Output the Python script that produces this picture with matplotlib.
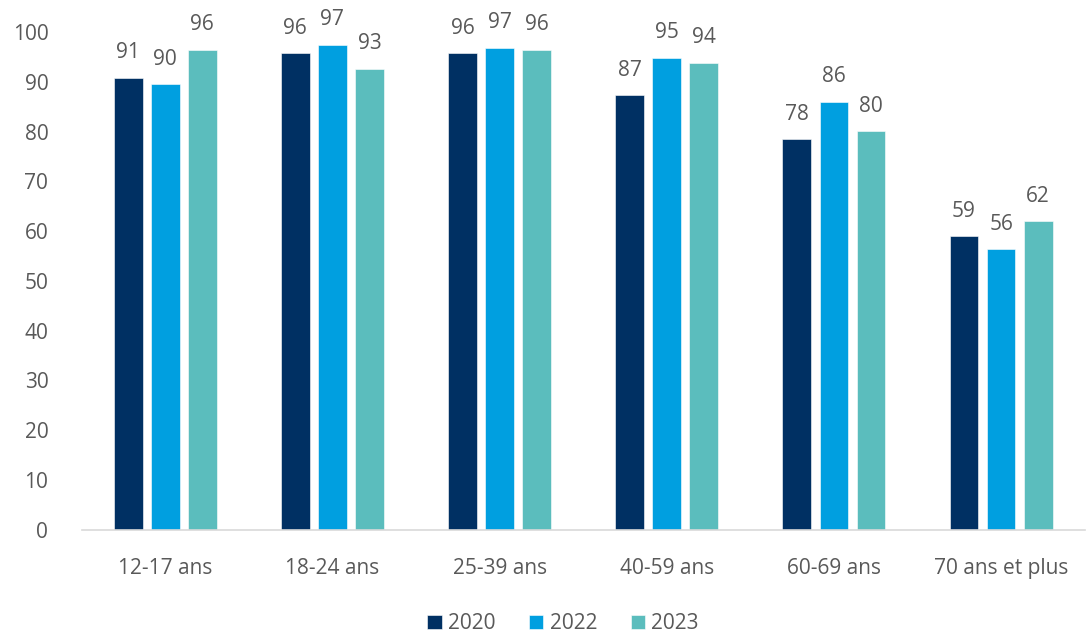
import numpy as np
import matplotlib.pyplot as plt

plt.rcParams['font.family'] = ['Open Sans', 'DejaVu Sans']
plt.rcParams['font.size'] = 15

categories = ['12-17 ans', '18-24 ans', '25-39 ans', '40-59 ans', '60-69 ans', '70 ans et plus']
years = ['2020', '2022', '2023']
v2020 = [90.8, 95.7, 95.7, 87.3, 78.4, 59.0]
v2022 = [89.5, 97.4, 96.8, 94.8, 86.0, 56.4]
v2023 = [96.4, 92.6, 96.4, 93.8, 80.1, 62.0]
colors = ['#003063', '#009fe0', '#5bbdbd']

grey = '#595959'

fig = plt.figure(figsize=(10.89, 6.39), dpi=100)
ax = fig.add_axes([0.075, 0.171, 0.921, 0.779])

x = np.arange(len(categories))
step = 0.222
width = 0.172
for i, (vals, year) in enumerate(zip([v2020, v2022, v2023], years)):
    pos = x + (i - 1) * step
    bars = ax.bar(pos, vals, width, color=colors[i], label=year,
                  edgecolor='white', linewidth=0.4)
    for b, v in zip(bars, vals):
        ax.text(b.get_x() + b.get_width() / 2, v + 2.9, '%.0f' % v,
                ha='center', va='bottom', color=grey, fontsize=15, clip_on=False)

ax.set_xlim(-0.5, 5.5)
ax.set_ylim(0, 100)
ax.set_yticks(np.arange(0, 101, 10))
ax.set_xticks(x)
ax.set_xticklabels(categories)
ax.tick_params(axis='both', length=0, colors=grey, labelsize=15)
ax.tick_params(axis='x', pad=20)
ax.tick_params(axis='y', pad=24)
for s in ['top', 'right', 'left']:
    ax.spines[s].set_visible(False)
ax.spines['bottom'].set_color('#d9d9d9')
ax.spines['bottom'].set_linewidth(1.2)

leg = fig.legend(loc='lower center', ncol=3, frameon=False, bbox_to_anchor=(0.517, -0.022),
                 handlelength=0.7, handleheight=0.7, handletextpad=0.3, columnspacing=1.6,
                 fontsize=15)
for t in leg.get_texts():
    t.set_color(grey)

plt.savefig('out.png', dpi=100)
